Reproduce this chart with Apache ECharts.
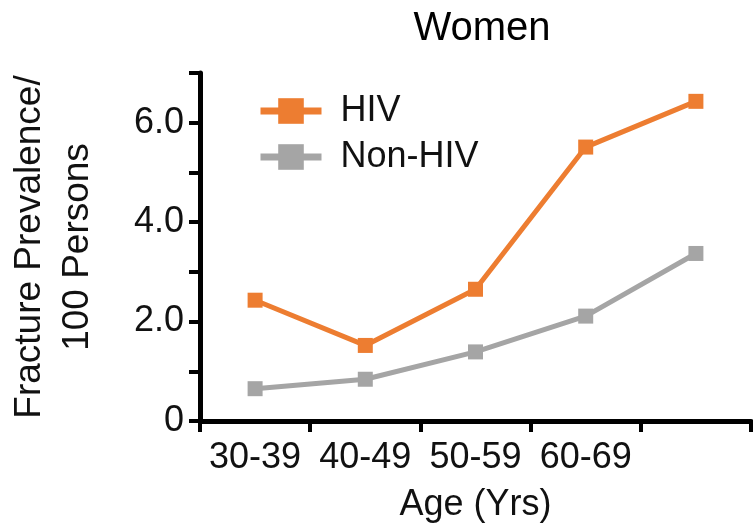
<!DOCTYPE html>
<html><head><meta charset="utf-8">
<script src="https://cdn.jsdelivr.net/npm/echarts@6/dist/echarts.min.js"></script>
<style>html,body{margin:0;padding:0;background:#fff}#c{width:753px;height:528px}</style>
</head><body><div id="c"></div>
<script>
const categories = ['30-39', '40-49', '50-59', '60-69', ''];
const hivValues = [2.43, 1.52, 2.65, 5.51, 6.43];
const nonHivValues = [0.65, 0.84, 1.39, 2.11, 3.37];
const yTickLabels = {0: '0', 2: '2.0', 4: '4.0', 6: '6.0'};
const FONT = 'Liberation Sans, Arial, Helvetica, sans-serif';
const chart = echarts.init(document.getElementById('c'));
chart.setOption({
  animation: false,
  title: { text: 'Women', left: 477, textAlign: 'center', top: 4,
    textStyle: { fontFamily: FONT, fontSize: 40, fontWeight: 'normal', color: '#000' } },
  legend: {
    left: 257, top: 93, padding: 0, orient: 'vertical', itemWidth: 61, itemHeight: 32, itemGap: 10,
    lineStyle: { width: 7 },
    textStyle: { fontFamily: FONT, fontSize: 36, color: '#111', padding: [0, 0, 16, 14] },
    data: ['HIV', 'Non-HIV']
  },
  grid: { left: 200, right: 2, top: 73, bottom: 107, outerBoundsMode: 'none', containLabel: false },
  xAxis: {
    type: 'category', data: categories, boundaryGap: true,
    axisLine: { lineStyle: { color: '#000', width: 5 } },
    axisTick: { show: true, length: 11, lineStyle: { color: '#000', width: 4 }, alignWithLabel: false },
    axisLabel: { fontFamily: FONT, fontSize: 36, color: '#111', margin: 19, interval: 0 },
    name: 'Age (Yrs)', nameLocation: 'middle', nameGap: 66,
    nameTextStyle: { fontFamily: FONT, fontSize: 36, color: '#111' }
  },
  yAxis: {
    type: 'value', min: 0, max: 7, interval: 1,
    axisLine: { show: true, lineStyle: { color: '#000', width: 5 } },
    axisTick: { show: true, length: 11, lineStyle: { color: '#000', width: 4 } },
    splitLine: { show: false },
    axisLabel: { fontFamily: FONT, fontSize: 36, color: '#111', margin: 16,
      formatter: v => (yTickLabels[v] !== undefined ? yTickLabels[v] : '') },
    name: 'Fracture Prevalence/\n100 Persons', nameLocation: 'middle', nameGap: 98,
    nameTextStyle: { fontFamily: FONT, fontSize: 37, color: '#111', lineHeight: 48 }
  },
  series: [
    { name: 'HIV', type: 'line', data: hivValues, symbol: 'rect', symbolSize: 15,
      lineStyle: { color: '#ED7D31', width: 5 }, itemStyle: { color: '#ED7D31' } },
    { name: 'Non-HIV', type: 'line', data: nonHivValues, symbol: 'rect', symbolSize: 15,
      lineStyle: { color: '#A5A5A5', width: 5 }, itemStyle: { color: '#A5A5A5' } }
  ]
});
</script></body></html>
